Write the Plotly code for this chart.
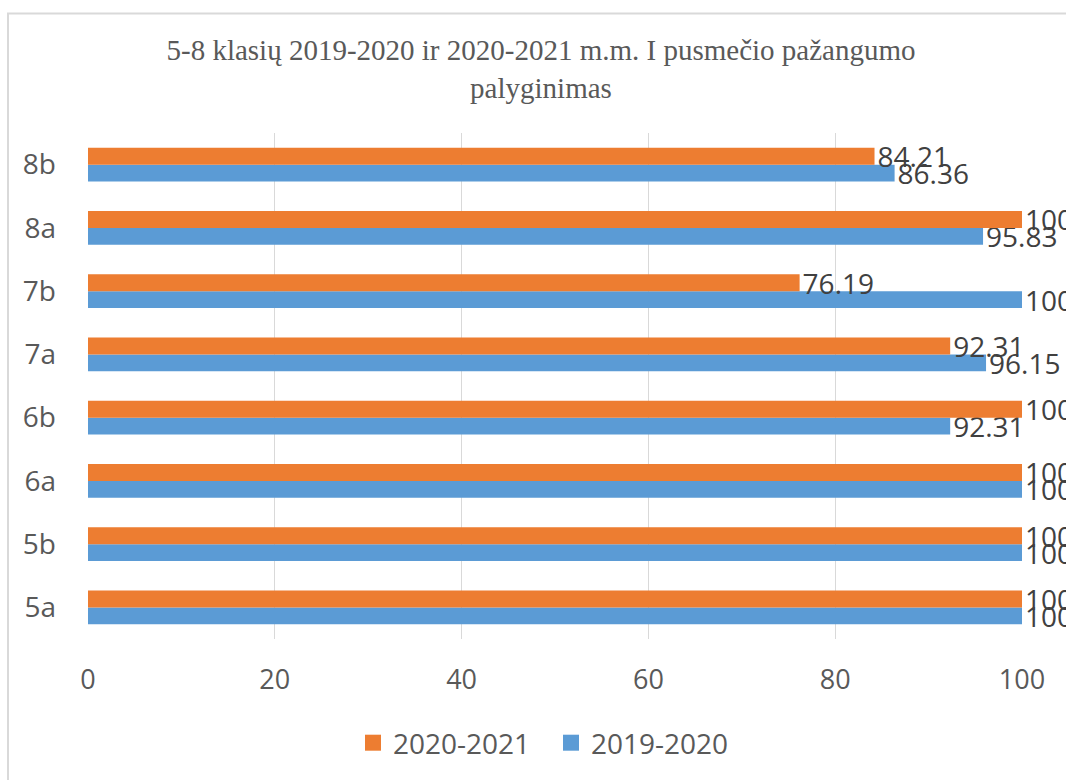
import plotly.graph_objects as go

categories = ["5a", "5b", "6a", "6b", "7a", "7b", "8a", "8b"]
values_2019_2020 = [100, 100, 100, 92.31, 96.15, 100, 95.83, 86.36]
values_2020_2021 = [100, 100, 100, 100, 92.31, 76.19, 100, 84.21]
x_ticks = [0, 20, 40, 60, 80, 100]

BLUE = "#5B9BD5"
ORANGE = "#ED7D31"
TXT = "#595959"
LBL = "#404040"
FONT = "Open Sans, Liberation Sans, sans-serif"

W, H = 1066, 780
L, R, T, B = 88, 44, 133, 141
PW, PH = W - L - R, H - T - B

fig = go.Figure()
fig.add_trace(go.Bar(
    y=categories, x=values_2019_2020, orientation="h", name="2019-2020",
    marker=dict(color=BLUE, line=dict(width=0)), text=[f"{v:g}" for v in values_2019_2020],
    textposition="outside", cliponaxis=False, constraintext="none",
    textfont=dict(family=FONT, size=28, color=LBL), showlegend=False,
))
fig.add_trace(go.Bar(
    y=categories, x=values_2020_2021, orientation="h", name="2020-2021",
    marker=dict(color=ORANGE, line=dict(width=0)), text=[f"{v:g}" for v in values_2020_2021],
    textposition="outside", cliponaxis=False, constraintext="none",
    textfont=dict(family=FONT, size=28, color=LBL), showlegend=False,
))
# legend entries
fig.add_trace(go.Scatter(x=[None], y=[None], mode="markers", name="2020-2021",
                         marker=dict(symbol="square", size=18, color=ORANGE), legendrank=1))
fig.add_trace(go.Scatter(x=[None], y=[None], mode="markers", name="2019-2020",
                         marker=dict(symbol="square", size=18, color=BLUE), legendrank=2))

fig.update_layout(
    width=W, height=H,
    paper_bgcolor="white", plot_bgcolor="white",
    margin=dict(l=L, r=R, t=T, b=B, pad=0),
    barmode="group", bargap=0.47, bargroupgap=0,
    title=dict(
        text="5-8 klasių 2019-2020 ir 2020-2021 m.m. I pusmečio pažangumo<br>palyginimas",
        font=dict(family="Liberation Serif, Times New Roman, serif", size=29, color=TXT),
        x=541 / W, xref="container", xanchor="center",
        y=1 - 60 / H, yref="container", yanchor="top",
    ),
    xaxis=dict(
        range=[0, 100], tickvals=x_ticks, showgrid=True, gridcolor="#D9D9D9", gridwidth=1,
        zeroline=False, showline=False, ticks="", ticklabelstandoff=22,
        tickfont=dict(family=FONT, size=27, color=TXT),
    ),
    yaxis=dict(
        type="category", categoryorder="array", categoryarray=categories,
        showgrid=False, zeroline=False, showline=False, ticks="", ticklabelstandoff=31,
        tickfont=dict(family=FONT, size=28, color=TXT),
    ),
    legend=dict(
        orientation="h", x=551 / W, xref="container", xanchor="center",
        y=1 - 743 / H, yref="container", yanchor="middle",
        font=dict(family=FONT, size=28, color=TXT), itemwidth=30,
        entrywidth=153, entrywidthmode="pixels",
        bgcolor="rgba(0,0,0,0)",
    ),
    shapes=[dict(
        type="rect", xref="paper", yref="paper",
        x0=(8 - L) / PW, x1=1.2, y0=-0.5, y1=(H - B - 13.5) / PH,
        line=dict(color="#D9D9D9", width=2), fillcolor="rgba(0,0,0,0)", layer="below",
    )],
)

fig.write_html(
    "out.html",
    config={"displayModeBar": False},
    post_script="document.body.style.margin='0';document.body.style.overflow='hidden';",
)
